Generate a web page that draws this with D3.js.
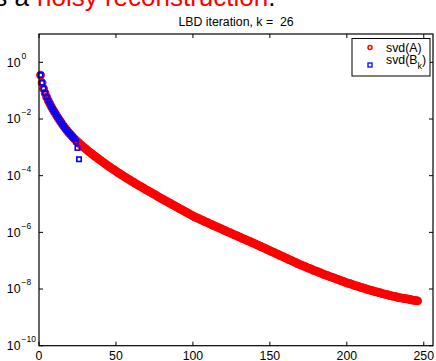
<!DOCTYPE html>
<html>
<head>
<meta charset="utf-8">
<script src="https://cdn.jsdelivr.net/npm/d3@7"></script>
<style>
  body { margin: 0; background: #fff; }
  svg { display: block; font-family: "Liberation Sans", Arial, sans-serif; }
</style>
</head>
<body>
<div id="chart"></div>
<script>
// singular values of A (log10), one per index 1..246
const sigmaA_log10 = [
  -0.45,-0.72,-0.93,-1.09,-1.23,-1.35,-1.46,-1.56,-1.66,-1.75,
  -1.84,-1.93,-2.01,-2.09,-2.17,-2.25,-2.32,-2.39,-2.46,-2.52,
  -2.58,-2.64,-2.70,-2.75,-2.80,-2.85,-2.90,-2.95,-2.99,-3.04,
  -3.08,-3.13,-3.17,-3.21,-3.26,-3.30,-3.34,-3.38,-3.42,-3.46,
  -3.50,-3.54,-3.58,-3.62,-3.66,-3.69,-3.73,-3.77,-3.80,-3.84,
  -3.88,-3.91,-3.95,-3.98,-4.02,-4.05,-4.09,-4.12,-4.15,-4.19,
  -4.22,-4.25,-4.29,-4.32,-4.35,-4.38,-4.41,-4.44,-4.48,-4.51,
  -4.54,-4.57,-4.60,-4.63,-4.66,-4.69,-4.73,-4.76,-4.79,-4.82,
  -4.85,-4.88,-4.91,-4.94,-4.97,-5.00,-5.03,-5.06,-5.09,-5.12,
  -5.15,-5.18,-5.21,-5.24,-5.27,-5.30,-5.33,-5.36,-5.39,-5.42,
  -5.45,-5.47,-5.50,-5.52,-5.55,-5.57,-5.60,-5.62,-5.65,-5.67,
  -5.70,-5.72,-5.75,-5.77,-5.80,-5.82,-5.84,-5.87,-5.89,-5.92,
  -5.94,-5.97,-5.99,-6.01,-6.04,-6.06,-6.09,-6.11,-6.13,-6.16,
  -6.18,-6.21,-6.23,-6.25,-6.28,-6.30,-6.32,-6.35,-6.37,-6.40,
  -6.42,-6.45,-6.47,-6.50,-6.52,-6.55,-6.57,-6.60,-6.62,-6.65,
  -6.67,-6.70,-6.72,-6.75,-6.77,-6.80,-6.82,-6.85,-6.87,-6.90,
  -6.92,-6.95,-6.97,-7.00,-7.02,-7.05,-7.07,-7.10,-7.12,-7.15,
  -7.17,-7.19,-7.21,-7.24,-7.26,-7.28,-7.30,-7.33,-7.35,-7.37,
  -7.39,-7.41,-7.43,-7.46,-7.48,-7.50,-7.52,-7.54,-7.56,-7.58,
  -7.60,-7.62,-7.64,-7.66,-7.68,-7.70,-7.72,-7.74,-7.76,-7.78,
  -7.80,-7.81,-7.83,-7.85,-7.87,-7.89,-7.90,-7.92,-7.94,-7.95,
  -7.97,-7.99,-8.00,-8.02,-8.04,-8.05,-8.07,-8.08,-8.10,-8.11,
  -8.13,-8.14,-8.16,-8.17,-8.19,-8.20,-8.21,-8.23,-8.24,-8.25,
  -8.26,-8.28,-8.29,-8.30,-8.31,-8.32,-8.33,-8.34,-8.35,-8.36,
  -8.37,-8.38,-8.39,-8.40,-8.41,-8.42
];

// singular values of B_k, k = 26 (log10)
const sigmaB_log10 = [
  -0.45,-0.72,-0.93,-1.09,-1.23,-1.35,-1.46,-1.56,-1.66,-1.75,
  -1.84,-1.93,-2.01,-2.09,-2.17,-2.25,-2.32,-2.39,-2.46,-2.52,
  -2.58,-2.64,-2.70,-2.80,-3.02,-3.42
];

const xTicks = [0, 50, 100, 150, 200, 250];
const yTickExps = [0, -2, -4, -6, -8, -10];
const titleText = "LBD iteration, k =  26";

const width = 436, height = 361;
const plot = { left: 39, right: 433, top: 34, bottom: 345.7 };

const svg = d3.select("#chart").append("svg")
  .attr("width", width).attr("height", height);

// cropped slide text above the figure
svg.append("text")
  .attr("x", 29).attr("y", 6)
  .attr("text-anchor", "end")
  .style("font-size", "26px")
  .attr("fill", "#000")
  .text("s a");
const slide = svg.append("text")
  .attr("x", 37).attr("y", 6)
  .style("font-size", "26px");
slide.append("tspan").attr("fill", "#ff0000").text("noisy reconstruction");
slide.append("tspan").attr("fill", "#000").text(".");

const x = d3.scaleLinear().domain([0, 256]).range([plot.left, plot.right]);
const y = d3.scaleLog().domain([1e-10, 1e1]).range([plot.bottom, plot.top]);

const dataA = sigmaA_log10.map((e, i) => ({ i: i + 1, v: Math.pow(10, e) }));
const dataB = sigmaB_log10.map((e, i) => ({ i: i + 1, v: Math.pow(10, e) }));

// ticks (inward, all four sides)
const tickLen = 4;
const ticks = svg.append("g").attr("stroke", "#000").attr("stroke-width", 1);
xTicks.forEach(t => {
  const px = x(t);
  ticks.append("line").attr("x1", px).attr("x2", px)
    .attr("y1", plot.bottom).attr("y2", plot.bottom - tickLen);
  ticks.append("line").attr("x1", px).attr("x2", px)
    .attr("y1", plot.top).attr("y2", plot.top + tickLen);
});
yTickExps.forEach(e => {
  const py = y(Math.pow(10, e));
  ticks.append("line").attr("x1", plot.left).attr("x2", plot.left + tickLen)
    .attr("y1", py).attr("y2", py);
  ticks.append("line").attr("x1", plot.right).attr("x2", plot.right - tickLen)
    .attr("y1", py).attr("y2", py);
});

// data markers
svg.append("g").selectAll("circle")
  .data(dataA).enter().append("circle")
  .attr("cx", d => x(d.i))
  .attr("cy", d => y(d.v))
  .attr("r", 3)
  .attr("fill", "none")
  .attr("stroke", "#ff0000")
  .attr("stroke-width", 2.8);

const sq = 4.4;
svg.append("g").selectAll("rect")
  .data(dataB).enter().append("rect")
  .attr("x", d => x(d.i) - sq / 2)
  .attr("y", d => y(d.v) - sq / 2)
  .attr("width", sq).attr("height", sq)
  .attr("fill", "none")
  .attr("stroke", "#0000ff")
  .attr("stroke-width", 1.6);

// axes box
svg.append("rect")
  .attr("x", plot.left).attr("y", plot.top)
  .attr("width", plot.right - plot.left)
  .attr("height", plot.bottom - plot.top)
  .attr("fill", "none").attr("stroke", "#000").attr("stroke-width", 1.2);

// x tick labels
svg.append("g").selectAll("text")
  .data(xTicks).enter().append("text")
  .attr("x", d => x(d))
  .attr("y", 360)
  .attr("text-anchor", "middle")
  .style("font-size", "12.3px")
  .text(d => d);

// y tick labels: 10 with superscript exponent
const yl = svg.append("g").style("font-size", "12.3px");
yTickExps.forEach(e => {
  const py = y(Math.pow(10, e));
  yl.append("text")
    .attr("x", 20.5).attr("y", py + 4.3)
    .attr("text-anchor", "end")
    .text("10");
  yl.append("text")
    .attr("x", 21.5).attr("y", py - 3.8)
    .style("font-size", "8.5px")
    .text(e === 0 ? "0" : "\u2212" + Math.abs(e));
});

// title
svg.append("text")
  .attr("x", (plot.left + plot.right) / 2)
  .attr("y", 25.5)
  .attr("text-anchor", "middle")
  .style("font-size", "12.3px")
  .style("white-space", "pre")
  .text(titleText);

// legend
const lg = svg.append("g");
lg.append("rect")
  .attr("x", 352).attr("y", 38.5)
  .attr("width", 78).attr("height", 37.5)
  .attr("fill", "#fff").attr("stroke", "#000").attr("stroke-width", 1);
lg.append("circle")
  .attr("cx", 370).attr("cy", 47.5).attr("r", 2)
  .attr("fill", "none").attr("stroke", "#ff0000").attr("stroke-width", 1.5);
lg.append("rect")
  .attr("x", 368).attr("y", 63).attr("width", 4).attr("height", 4)
  .attr("fill", "none").attr("stroke", "#0000ff").attr("stroke-width", 1.3);
lg.append("text")
  .attr("x", 386).attr("y", 51.5)
  .style("font-size", "12.3px")
  .text("svd(A)");
const lb = lg.append("text")
  .attr("x", 386).attr("y", 64)
  .style("font-size", "12.3px");
lb.append("tspan").text("svd(B");
lb.append("tspan").attr("dy", 5).style("font-size", "9px").text("k");
lb.append("tspan").attr("dy", -5).text(")");
</script>
</body>
</html>
